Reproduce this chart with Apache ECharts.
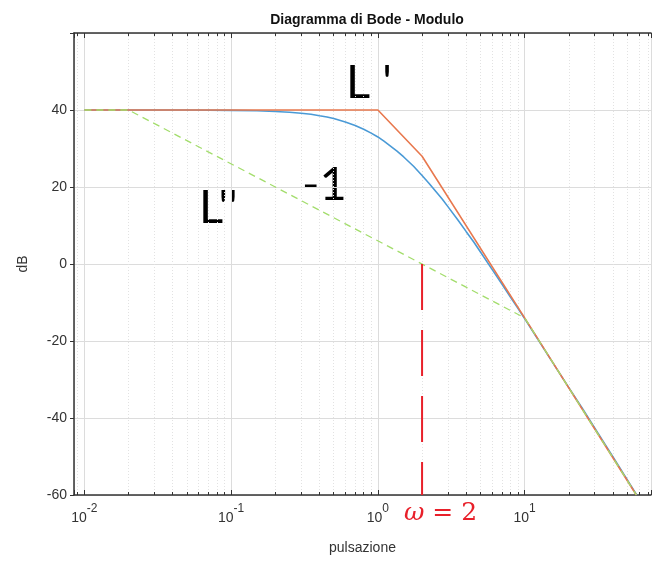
<!DOCTYPE html>
<html>
<head>
<meta charset="utf-8">
<script src="https://cdn.jsdelivr.net/npm/echarts@6/dist/echarts.min.js"></script>
<style>
  html, body { margin: 0; padding: 0; background: #fff; }
  #bode { width: 654px; height: 561px; }
</style>
</head>
<body>
<div id="bode"></div>
<script>
// pulsazione (rad/s) e modulo (dB)
var bluW  = [0.01, 0.05, 0.1, 0.15, 0.2, 0.25, 0.3, 0.35, 0.4, 0.45, 0.5, 0.6, 0.7, 0.8, 0.9, 1, 1.1, 1.2, 1.35, 1.5, 1.75, 2, 2.25, 2.5, 2.75, 3, 3.5, 4, 4.5, 5, 6, 7, 8, 9, 10, 12, 15, 20, 25, 30, 40, 58];
var bluDb = [40, 40, 39.9, 39.8, 39.6, 39.4, 39.15, 38.9, 38.5, 38.2, 37.8, 36.9, 36.0, 35.0, 34.0, 33.0, 31.9, 30.8, 29.3, 27.8, 25.4, 23.0, 20.8, 18.7, 16.8, 14.9, 11.5, 8.4, 5.7, 3.1, -1.4, -5.2, -8.6, -11.5, -14.2, -18.9, -24.7, -32.1, -37.8, -42.6, -50.1, -60];

// asintotico L'
var arancioW  = [0.01, 1, 2, 10, 57.7];
var arancioDb = [40, 40, 28, -14, -60];

// asintotico L''
var verdeW  = [0.01, 0.02, 10, 57.7];
var verdeDb = [40, 40, -14, -60];

// omega = 2
var rossoW  = [2, 2];
var rossoDb = [0, -60];

var yTicks = [-60, -40, -20, 0, 20, 40];

function zip(a, b) {
    return a.map(function (v, i) { return [v, b[i]]; });
}

function isPow10(v) {
    var l = Math.log(v) / Math.LN10;
    return Math.abs(l - Math.round(l)) < 1e-6;
}

var font = 'Liberation Sans';

var myChart = echarts.init(document.getElementById('bode'));

var xBase = {
    type: 'log',
    logBase: 10,
    min: 0.0085,
    max: 72.6,
    axisLine: { show: true, onZero: false, lineStyle: { color: '#333', width: 1.5 } },
    axisTick: { show: true, inside: true, length: 5, lineStyle: { color: '#333' } },
    minorTick: { show: true, splitNumber: 9, length: 3, lineStyle: { color: '#333' } }
};

var option = {
    animation: false,
    backgroundColor: '#fff',
    title: {
        text: 'Diagramma di Bode - Modulo',
        left: 362,
        top: 8,
        textAlign: 'center',
        textStyle: { fontFamily: font, fontSize: 14, fontWeight: 'bold', color: '#111' }
    },
    grid: { left: 74, right: 0, top: 33, bottom: 66 },
    xAxis: [
        echarts.util.merge({
            position: 'bottom',
            name: 'pulsazione',
            nameLocation: 'middle',
            nameGap: 46,
            nameTextStyle: { fontFamily: font, fontSize: 14, color: '#333' },
            splitLine: { show: true, lineStyle: { color: '#dcdcdc', width: 1 } },
            minorSplitLine: { show: true, lineStyle: { color: '#e2e2e2', type: [1, 2], width: 1 } },
            axisLabel: {
                margin: 10,
                formatter: function (v) {
                    if (!isPow10(v)) return '';
                    return '{b|10}{s|' + Math.round(Math.log(v) / Math.LN10) + '}';
                },
                rich: {
                    b: { fontFamily: font, fontSize: 14, color: '#333', lineHeight: 20, verticalAlign: 'bottom' },
                    s: { fontFamily: font, fontSize: 12, color: '#333', lineHeight: 12, padding: [0, 0, 10, 0], verticalAlign: 'bottom' }
                }
            }
        }, xBase, true),
        echarts.util.merge({
            position: 'top',
            axisLabel: { show: false },
            splitLine: { show: false }
        }, xBase, true)
    ],
    yAxis: {
        type: 'value',
        min: -60,
        max: 60,
        interval: 20,
        name: 'dB',
        nameLocation: 'middle',
        nameGap: 44,
        nameRotate: 90,
        nameTextStyle: { fontFamily: font, fontSize: 14, color: '#333' },
        axisLine: { show: true, lineStyle: { color: '#333', width: 1.5 } },
        axisTick: { show: true, inside: false, length: 4, lineStyle: { color: '#333' } },
        splitLine: { show: true, lineStyle: { color: '#dcdcdc', width: 1 } },
        axisLabel: {
            fontFamily: font,
            fontSize: 14,
            color: '#333',
            margin: 7,
            formatter: function (v) {
                return yTicks.indexOf(v) >= 0 ? String(v) : '';
            }
        }
    },
    series: [
        {
            name: 'L',
            type: 'line',
            data: zip(bluW, bluDb),
            symbol: 'none',
            clip: true,
            lineStyle: { color: '#4a9ad6', width: 1.6 }
        },
        {
            name: "L'",
            type: 'line',
            data: zip(arancioW, arancioDb),
            symbol: 'none',
            clip: true,
            lineStyle: { color: '#e8784e', width: 1.6 }
        },
        {
            name: "L''",
            type: 'line',
            data: zip(verdeW, verdeDb),
            symbol: 'none',
            clip: true,
            lineStyle: { color: '#a3dd6c', width: 1.3, type: [7, 5] }
        },
        {
            name: 'omega',
            type: 'line',
            data: zip(rossoW, rossoDb),
            symbol: 'none',
            clip: true,
            lineStyle: { color: '#e8202a', width: 2, type: [46, 20] }
        }
    ],
    graphic: [
        { type: 'text', left: 346, top: 59, style: { text: "L '", font: '47px Lato', fill: '#000' } },
        { type: 'text', left: 199, top: 184, style: { text: "L''", font: '47px Lato', fill: '#000' } },
        { type: 'text', left: 302, top: 161, style: { text: '-1', font: '47px Lato', fill: '#000' } },
        {
            type: 'text', left: 404, top: 501,
            style: {
                text: '{w|ω}{n| = 2}',
                rich: {
                    w: { font: 'italic 25px "DejaVu Serif"', fill: '#e8202a' },
                    n: { font: '25px "DejaVu Serif"', fill: '#e8202a' }
                }
            }
        }
    ]
};

myChart.setOption(option);
</script>
</body>
</html>
